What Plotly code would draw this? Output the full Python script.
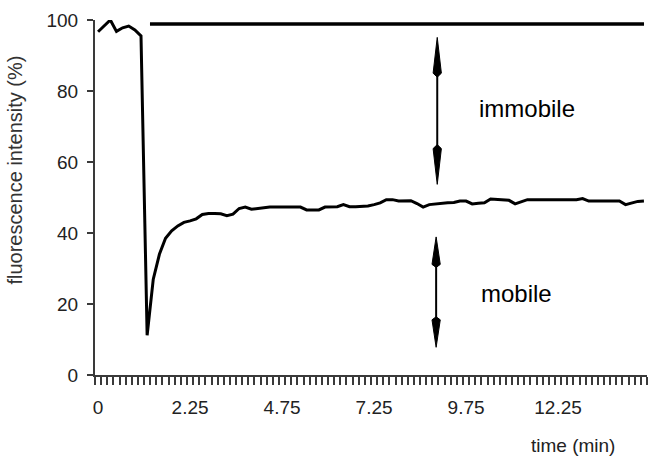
import plotly.graph_objects as go

# ---- data -------------------------------------------------------------
time_min = [
    "0", "0.15", "0.3", "0.45", "0.6", "0.75", "0.9", "1.05", "1.2", "1.35",
    "1.5", "1.65", "1.8", "1.95", "2.1", "2.25",
    "2.42", "2.58", "2.75", "2.92", "3.08", "3.25",
    "3.42", "3.58", "3.75", "3.92", "4.08", "4.25",
    "4.42", "4.58", "4.75", "4.92", "5.08", "5.25",
    "5.42", "5.58", "5.75", "5.92", "6.08", "6.25",
    "6.42", "6.58", "6.75", "6.92", "7.08", "7.25",
    "7.42", "7.58", "7.75", "7.92", "8.08", "8.25",
    "8.42", "8.58", "8.75", "8.92", "9.08", "9.25",
    "9.42", "9.58", "9.75", "9.92", "10.08", "10.25",
    "10.42", "10.58", "10.75", "10.92", "11.08", "11.25",
    "11.42", "11.58", "11.75", "11.92", "12.08", "12.25",
    "12.42", "12.58", "12.75", "12.92", "13.08", "13.25",
    "13.42", "13.58", "13.75", "13.92", "14.08", "14.25",
    "14.42", "14.58",
]

intensity_pct = [
    96.7, 98.5, 100.0, 96.8, 97.8, 98.3, 97.2, 95.5,
    11.2, 27.0, 34.0, 38.5, 40.6, 42.0, 43.0, 43.4,
    44.0, 45.2, 45.5, 45.5, 45.4, 44.9, 45.3, 46.9, 47.3, 46.7,
    46.9, 47.2, 47.3, 47.3, 47.3, 47.3, 47.3, 47.3, 46.5, 46.4,
    46.5, 47.3, 47.4, 47.4, 48.0, 47.4, 47.4, 47.4, 47.6, 48.0,
    48.5, 49.4, 49.4, 49.0, 49.0, 49.1, 48.3, 47.3, 48.0, 48.2,
    48.5, 48.5, 48.6, 49.0, 49.0, 48.2, 48.4, 48.5, 49.6, 49.5,
    49.4, 49.2, 48.2, 48.9, 49.4, 49.4, 49.4, 49.4, 49.4, 49.4,
    49.4, 49.4, 49.4, 49.7, 49.0, 49.0, 49.0, 49.0, 49.0, 49.0,
    48.0, 48.5, 48.9, 49.0,
]

x_tick_labels = ["0", "2.25", "4.75", "7.25", "9.75", "12.25"]
y_tick_values = [0, 20, 40, 60, 80, 100]

prebleach_level = 98.9          # reference line (%)
immobile_arrow = (95.1, 53.7)   # span of immobile fraction arrow (%)
mobile_arrow = (38.9, 7.8)      # span of mobile fraction arrow (%)

# ---- figure -----------------------------------------------------------
FONT = "Liberation Sans, Arial, sans-serif"
AXIS_COLOR = "#3a3a3a"

fig = go.Figure()
fig.add_trace(go.Scatter(
    x=time_min, y=intensity_pct, mode="lines",
    line=dict(color="black", width=3), showlegend=False, hoverinfo="skip",
))

ticktext = [t if t in x_tick_labels else "" for t in time_min]

fig.update_layout(
    width=657, height=466,
    margin=dict(l=95, r=10, t=18, b=91),
    paper_bgcolor="white", plot_bgcolor="white",
    font=dict(family=FONT, size=19, color="#222"),
    xaxis=dict(
        type="category", range=[-0.5, len(time_min) - 0.5],
        tickmode="array", tickvals=time_min, ticktext=ticktext,
        tickson="boundaries", ticks="outside", ticklen=8, tickwidth=1.5,
        tickcolor=AXIS_COLOR, showline=True, linecolor=AXIS_COLOR, linewidth=2,
        showgrid=False, zeroline=False, tickangle=0, ticklabelstandoff=14,
        ticklabeloverflow="allow",
        tickfont=dict(family=FONT, size=19, color="#222"),
    ),
    yaxis=dict(
        range=[0, 100], tickmode="array", tickvals=y_tick_values,
        ticks="outside", ticklen=6, tickwidth=1.5, tickcolor=AXIS_COLOR,
        showline=True, linecolor=AXIS_COLOR, linewidth=2,
        showgrid=False, zeroline=False, ticklabelstandoff=5,
        ticklabeloverflow="allow",
        tickfont=dict(family=FONT, size=19, color="#222"),
    ),
)

# pre-bleach reference line
fig.add_shape(type="line", xref="paper", yref="y",
              x0=0.0996, x1=0.9946, y0=prebleach_level, y1=prebleach_level,
              line=dict(color="black", width=3.5))


def double_arrow(xp, y_top, y_bot, head_len, half_w=0.0075):
    shapes = [dict(type="line", xref="paper", yref="y", x0=xp, x1=xp,
                   y0=y_top - head_len * 0.8, y1=y_bot + head_len * 0.8,
                   line=dict(color="black", width=2))]
    for tip, sgn in ((y_top, -1), (y_bot, 1)):
        wide = tip + sgn * head_len * 0.9
        back = tip + sgn * head_len
        path = (f"M {xp},{tip} L {xp - half_w},{wide} L {xp},{back} "
                f"L {xp + half_w},{wide} Z")
        shapes.append(dict(type="path", xref="paper", yref="y", path=path,
                           fillcolor="black", line=dict(color="black", width=1)))
    return shapes


for s in double_arrow(0.620, immobile_arrow[0], immobile_arrow[1], 11.2):
    fig.add_shape(**s)
for s in double_arrow(0.618, mobile_arrow[0], mobile_arrow[1], 8.6):
    fig.add_shape(**s)

label_kw = dict(showarrow=False, xanchor="center", yanchor="middle")
fig.add_annotation(text="immobile", xref="paper", yref="y", x=0.7835, y=75.2,
                   font=dict(family=FONT, size=24, color="black"), **label_kw)
fig.add_annotation(text="mobile", xref="paper", yref="y", x=0.764, y=23.1,
                   font=dict(family=FONT, size=24, color="black"), **label_kw)
fig.add_annotation(text="fluorescence intensity (%)", xref="paper", yref="paper",
                   x=-0.1467, y=0.576, textangle=-90,
                   font=dict(family=FONT, size=20, color="#333"), **label_kw)
fig.add_annotation(text="time (min)", xref="paper", yref="paper",
                   x=0.866, y=-0.199,
                   font=dict(family=FONT, size=19, color="#222"), **label_kw)

fig.write_html("out.html",
               config={"displayModeBar": False},
               post_script="document.body.style.margin='0px';"
                           "document.body.style.overflow='hidden';")
